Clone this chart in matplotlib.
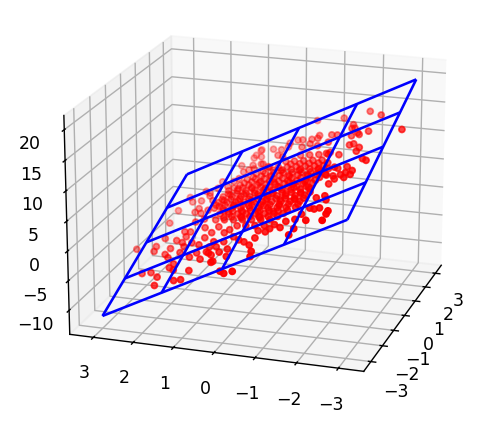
import matplotlib
matplotlib.use('Agg')
import matplotlib.pyplot as plt
import numpy as np

grid_x = [-3, -1.5, 0, 1.5, 3]
grid_y = [-3, -1.5, 0, 1.5, 3]
plane_z = [
    [8.76, 3.57, -1.62, -6.80, -11.99],
    [11.49, 6.31, 1.12, -4.07, -9.26],
    [14.23, 9.04, 3.85, -1.33, -6.52],
    [16.96, 11.78, 6.59, 1.40, -3.79],
    [19.70, 14.51, 9.33, 4.14, -1.05],
]

# scattered points around the edge of the cloud
edge_x = [2.16, 1.71, 0.50, 1.13, 2.39, 2.86, 1.79, 1.63, 1.57, 1.27, 1.15, 1.24, 1.73, 1.62, 1.97, 1.86, 1.94, 2.12, 2.22, 2.23,
          2.51, 2.27, 2.06, 2.06, 1.73, 1.73, 1.47, 1.41, 0.80, 0.77, 0.46, 0.32, -0.19, -0.35, -0.28, -0.57, -0.55, -0.73, -0.55, -0.76,
          -1.30, -0.04, -0.15, 0.52, 0.83, 0.86, -0.46, -0.63, -0.77, 2.33, 1.72, 1.61,
          -0.15, -0.64, -0.43, -0.20, 0.55, 1.03, 1.49, 1.18, 1.05, 1.28, 0.56, 0.68, 0.39, 0.40, 0.00, 0.03, -0.25, -0.55,
          -0.54, -0.76, -1.01, -0.83, -1.03, -1.25, -1.23, -1.65, -1.67, -1.79, -1.97, -1.53, -1.66, -2.01, -2.38, -2.50, -2.59, -2.31, -1.97, -2.34,
          -2.33, -2.94, -3.12, -3.18, -2.35, -2.01, -2.00, -1.82, -1.98, -1.58, -1.22, -1.73, -1.54, -1.68, -1.97, -2.23, -2.57, -2.80, -2.00, -0.97,
          -0.38, -0.47, -0.87, -0.71, -1.14, -0.98, -1.36, -1.56, -1.52, -1.77, -1.08,
          -1.52, -1.23, -1.78, -1.60, -1.73, -2.10, -2.21, -2.44, -2.13, -2.50, -2.29, -1.70, -1.90, -1.82, -1.72, -1.97, -1.79, -1.88, -1.74,
          2.08, 1.69, 2.22, 2.48, 2.13, 1.84, 1.64, 1.62, 1.12, 0.81, 1.46, 1.37, 1.26, 1.68, 1.83, 1.68, 1.43, 1.43, 1.38]
edge_y = [-1.97, -2.36, -3.18, -2.22, -1.27, -0.47, -1.67, -1.68, -1.77, -1.92, -1.99, -1.78, -1.16, -1.33, -0.79, -0.78, -0.61, -0.33, -0.18, 0.02,
          0.82, 0.45, 0.18, 0.01, -0.43, -0.63, -0.89, -1.17, -1.86, -1.97, -2.19, -2.16, -2.45, -2.58, -2.12, -2.32, -2.16, -2.32, -2.04, -2.18,
          -1.90, -1.75, -1.86, -1.69, -1.39, -1.29, -1.84, -1.92, -1.83, 0.90, 0.58, 0.72,
          3.07, 2.45, 2.47, 2.33, 2.49, 2.44, 2.30, 2.13, 1.86, 1.72, 1.85, 1.79, 1.64, 1.47, 1.42, 1.65, 1.82, 1.68,
          1.92, 1.70, 1.57, 1.97, 2.03, 1.88, 1.59, 1.21, 1.59, 1.65, 1.49, 2.42, 2.15, 1.87, 1.80, 1.29, 1.09, 0.99, 0.84, 0.45,
          0.41, 0.03, -0.12, -0.34, 0.08, 0.17, 0.37, 0.69, 0.57, 1.06, 1.13, 0.77, 0.76, 0.55, -0.21, -0.42, -0.58, -0.63, -0.48, 1.39,
          1.63, 1.24, 0.94, 0.82, 0.54, 1.07, 0.72, 0.41, 0.19, -0.02, 0.43,
          -1.99, -1.68, -1.92, -1.64, -1.78, -2.21, -2.20, -2.18, -1.71, -1.43, -1.48, -0.46, -0.69, -0.77, -0.85, -1.06, -1.14, -1.38, -1.49,
          1.19, 0.88, 0.92, 0.83, 0.71, 0.20, 0.02, 1.52, 1.67, 1.49, 1.88, 1.55, 1.27, 1.01, 0.82, 0.52, 0.31, 1.04, 1.15]
edge_z = [17.88, 18.44, 19.08, 16.79, 15.75, 13.79, 16.13, 15.83, 16.05, 16.02, 16.02, 15.46, 14.14, 14.47, 13.26, 13.00, 12.52, 11.85, 11.48, 10.78,
          8.42, 9.31, 9.87, 10.49, 11.49, 12.19, 12.63, 13.56, 14.88, 15.22, 15.44, 15.08, 15.15, 15.31, 13.76, 13.90, 13.39, 13.61, 12.95, 13.06,
          11.01, 12.87, 13.00, 13.71, 13.23, 12.90, 12.39, 12.32, 11.74, 7.77, 7.78, 7.07,
          -4.86, -3.53, -3.20, -2.24, -1.44, -0.31, 1.08, 1.12, 1.82, 2.78, 0.95, 1.38, 1.35, 1.98, 1.43, 0.65, -0.52, -0.55,
          -1.43, -1.07, -1.06, -2.16, -2.75, -2.64, -1.57, -0.98, -2.42, -2.85, -2.64, -5.14, -4.43, -4.07, -4.50, -2.92, -2.37, -1.45, -0.24, 0.47,
          0.65, 0.84, 1.06, 1.73, 1.79, 2.12, 1.42, 0.57, 0.72, -0.32, 0.12, 0.46, 0.86, 1.38, 3.55, 3.81, 3.74, 3.48, 4.50, -0.33,
          -0.08, 1.18, 1.52, 2.24, 2.48, 0.81, 1.34, 2.07, 2.99, 3.25, 2.95,
          10.93, 10.35, 10.13, 9.46, 9.72, 10.62, 10.36, 9.84, 8.74, 6.97, 7.56, 4.98, 5.46, 5.86, 6.37, 6.64, 7.30, 8.04, 8.66,
          6.26, 6.60, 7.51, 8.32, 8.07, 9.35, 9.65, 4.17, 2.67, 2.71, 2.55, 3.55, 4.36, 6.16, 7.15, 7.93, 8.18, 5.53, 5.05]

# the dense middle of the cloud
core_x = [1.32, 1.14, 0.95, 0.77,
          1.31, 1.13, 0.95, 0.77, 0.58,
          1.36, 1.18, 0.99, 0.81, 0.63, 0.45, 0.26,
          1.31, 1.13, 0.95, 0.77, 0.58, 0.40, 0.22, 0.03,
          1.22, 1.03, 0.85, 0.67, 0.49, 0.30, 0.12, -0.06, -0.25,
          1.05, 0.87, 0.68, 0.50, 0.32, 0.14, -0.05, -0.23, -0.41,
          1.00, 0.81, 0.63, 0.44, 0.26, 0.08, -0.10, -0.29, -0.47, -0.65,
          0.78, 0.60, 0.42, 0.24, 0.05, -0.13, -0.31, -0.50, -0.68, -0.86,
          0.58, 0.40, 0.22, 0.04, -0.15, -0.33, -0.51, -0.69, -0.88, -1.06,
          0.36, 0.17, -0.01, -0.19, -0.37, -0.56, -0.74, -0.92, -1.11, -1.29,
          -0.07, -0.25, -0.43, -0.61, -0.80, -0.98, -1.16, -1.34,
          -0.29, -0.48, -0.66, -0.84, -1.03, -1.21, -1.39,
          -1.02, -1.20, -1.39, -1.57,
          0.97, 0.79, 0.60, 0.42, 0.23, 0.05, -0.13, -0.31,
          1.02, 0.84, 0.66, 0.47, 0.29, 0.11, -0.07, -0.26, -0.44,
          0.84, 0.66, 0.48, 0.29, 0.11, -0.07, -0.25, -0.44, -0.62, -0.80,
          0.65, 0.47, 0.29, 0.11, -0.08, -0.26, -0.44, -0.62, -0.81, -0.99,
          0.48, 0.30, 0.11, -0.07, -0.25, -0.43, -0.62, -0.80, -0.98, -1.17,
          0.00, -0.18, -0.37, -0.55, -0.73, -0.91, -1.10, -1.28,
          1.06, 0.88, 0.70, 0.52, 0.33, 0.15, -0.03, -0.22,
          1.12, 0.94, 0.76, 0.57, 0.39, 0.21, 0.02,
          1.06, 0.88, 0.70, 0.52, 0.33,
          -0.46, -0.64, -0.82, -1.01, -1.19, -1.37,
          1.27, 0.91, 0.54, 0.18,
          1.17, 0.81, 0.44, 0.08, -0.29,
          1.05, 0.74, 0.44, 0.13, -0.17,
          0.89, 0.61, 0.32, 0.04, -0.25, -0.53,
          0.74, 0.46, 0.17, -0.11, -0.40, -0.68,
          0.56, 0.28, -0.01, -0.29, -0.57, -0.86,
          0.35, 0.05, -0.25, -0.56, -0.86,
          -0.13, -0.43, -0.74, -1.04,
          -0.35, -0.71, -1.08]
core_y = [-0.52, -0.80, -1.08, -1.36,
          -0.16, -0.43, -0.71, -0.99, -1.27,
          0.26, -0.02, -0.30, -0.58, -0.85, -1.13, -1.41,
          0.57, 0.29, 0.01, -0.27, -0.55, -0.83, -1.11, -1.39,
          0.77, 0.50, 0.22, -0.06, -0.34, -0.62, -0.90, -1.18, -1.46,
          0.89, 0.61, 0.33, 0.06, -0.22, -0.50, -0.78, -1.06, -1.34,
          1.16, 0.88, 0.61, 0.33, 0.05, -0.23, -0.51, -0.79, -1.07, -1.35,
          1.22, 0.94, 0.66, 0.38, 0.10, -0.18, -0.46, -0.73, -1.01, -1.29,
          1.27, 0.99, 0.72, 0.44, 0.16, -0.12, -0.40, -0.68, -0.96, -1.24,
          1.30, 1.02, 0.74, 0.46, 0.18, -0.10, -0.38, -0.66, -0.93, -1.21,
          1.01, 0.73, 0.45, 0.18, -0.10, -0.38, -0.66, -0.94,
          1.04, 0.76, 0.48, 0.20, -0.08, -0.36, -0.64,
          0.27, 0.00, -0.28, -0.56,
          0.57, 0.29, 0.01, -0.27, -0.55, -0.83, -1.10, -1.38,
          1.03, 0.75, 0.47, 0.19, -0.09, -0.36, -0.64, -0.92, -1.20,
          1.11, 0.83, 0.55, 0.27, -0.01, -0.29, -0.57, -0.85, -1.13, -1.40,
          1.20, 0.92, 0.64, 0.36, 0.08, -0.20, -0.48, -0.76, -1.04, -1.31,
          1.29, 1.01, 0.73, 0.45, 0.17, -0.11, -0.39, -0.67, -0.95, -1.23,
          0.94, 0.66, 0.38, 0.10, -0.18, -0.46, -0.74, -1.02,
          0.36, 0.08, -0.20, -0.48, -0.76, -1.04, -1.32, -1.59,
          0.09, -0.19, -0.47, -0.75, -1.03, -1.30, -1.59,
          -0.36, -0.64, -0.92, -1.20, -1.48,
          0.59, 0.31, 0.03, -0.25, -0.53, -0.81,
          0.39, -0.17, -0.73, -1.29,
          0.60, 0.04, -0.52, -1.08, -1.63,
          0.78, 0.31, -0.15, -0.62, -1.08,
          0.88, 0.45, 0.02, -0.42, -0.85, -1.29,
          1.03, 0.60, 0.16, -0.27, -0.70, -1.14,
          1.12, 0.68, 0.25, -0.18, -0.62, -1.05,
          1.17, 0.71, 0.24, -0.22, -0.69,
          0.79, 0.33, -0.14, -0.60,
          0.82, 0.26, -0.30]
core_z = [11.02, 11.68, 12.35, 13.01,
          9.69, 10.36, 11.02, 11.69, 12.35,
          8.22, 8.88, 9.55, 10.21, 10.88, 11.54, 12.20,
          7.04, 7.70, 8.37, 9.03, 9.70, 10.36, 11.02, 11.69,
          6.09, 6.76, 7.42, 8.08, 8.75, 9.41, 10.08, 10.74, 11.40,
          5.35, 6.02, 6.68, 7.35, 8.01, 8.68, 9.34, 10.00, 10.67,
          4.25, 4.91, 5.58, 6.24, 6.91, 7.57, 8.23, 8.90, 9.56, 10.23,
          3.66, 4.32, 4.99, 5.65, 6.32, 6.98, 7.65, 8.31, 8.97, 9.64,
          3.08, 3.75, 4.41, 5.07, 5.74, 6.40, 7.07, 7.73, 8.39, 9.06,
          2.57, 3.23, 3.89, 4.56, 5.22, 5.89, 6.55, 7.21, 7.88, 8.54,
          2.79, 3.45, 4.12, 4.78, 5.45, 6.11, 6.77, 7.44,
          2.28, 2.95, 3.61, 4.28, 4.94, 5.60, 6.27,
          3.61, 4.28, 4.94, 5.61,
          6.35, 7.01, 7.68, 8.34, 9.01, 9.67, 10.34, 11.00,
          4.80, 5.47, 6.13, 6.80, 7.46, 8.12, 8.79, 9.45, 10.12,
          4.14, 4.81, 5.47, 6.13, 6.80, 7.46, 8.13, 8.79, 9.46, 10.12,
          3.49, 4.15, 4.82, 5.48, 6.14, 6.81, 7.47, 8.14, 8.80, 9.46,
          2.82, 3.48, 4.15, 4.81, 5.47, 6.14, 6.80, 7.47, 8.13, 8.80,
          3.19, 3.85, 4.52, 5.18, 5.85, 6.51, 7.17, 7.84,
          7.30, 7.96, 8.63, 9.29, 9.96, 10.62, 11.28, 11.95,
          8.40, 9.06, 9.73, 10.39, 11.05, 11.72, 12.38,
          9.95, 10.62, 11.28, 11.94, 12.61,
          3.56, 4.22, 4.89, 5.55, 6.22, 6.88,
          7.64, 8.96, 10.29, 11.62,
          6.68, 8.01, 9.33, 10.66, 11.99,
          5.79, 6.90, 8.01, 9.11, 10.22,
          5.06, 6.09, 7.12, 8.16, 9.19, 10.22,
          4.26, 5.29, 6.32, 7.36, 8.39, 9.42,
          3.59, 4.63, 5.66, 6.69, 7.73, 8.76,
          3.00, 4.11, 5.22, 6.33, 7.43,
          3.46, 4.57, 5.67, 6.78,
          2.94, 4.27, 5.60]

# point readings were taken against a slightly smaller frame, rescale to the final one
XY_SCALE = 1.041
Z_GAIN = 0.993
Z_SHIFT = -2.70

fig = plt.figure(figsize=(4.92 / 1.25, 4.22 / 1.25), dpi=125)
ax = fig.add_axes([-0.02, -0.025, 1.08, 1.1], projection='3d')
X, Y = np.meshgrid(grid_x, grid_y, indexing='ij')
ax.plot_wireframe(X, Y, np.array(plane_z), color='blue')
ax.scatter(np.array(edge_x + core_x) * XY_SCALE, np.array(edge_y + core_y) * XY_SCALE,
           np.array(edge_z + core_z) * Z_GAIN + Z_SHIFT, c='r', s=12)
ax.set_xlim(-3.6, 3.6)
ax.set_ylim(-3.6, 3.6)
ax.set_zlim(-14.1, 22.3)
ax.view_init(19, 198)
fig.savefig('out.png', dpi=125)
